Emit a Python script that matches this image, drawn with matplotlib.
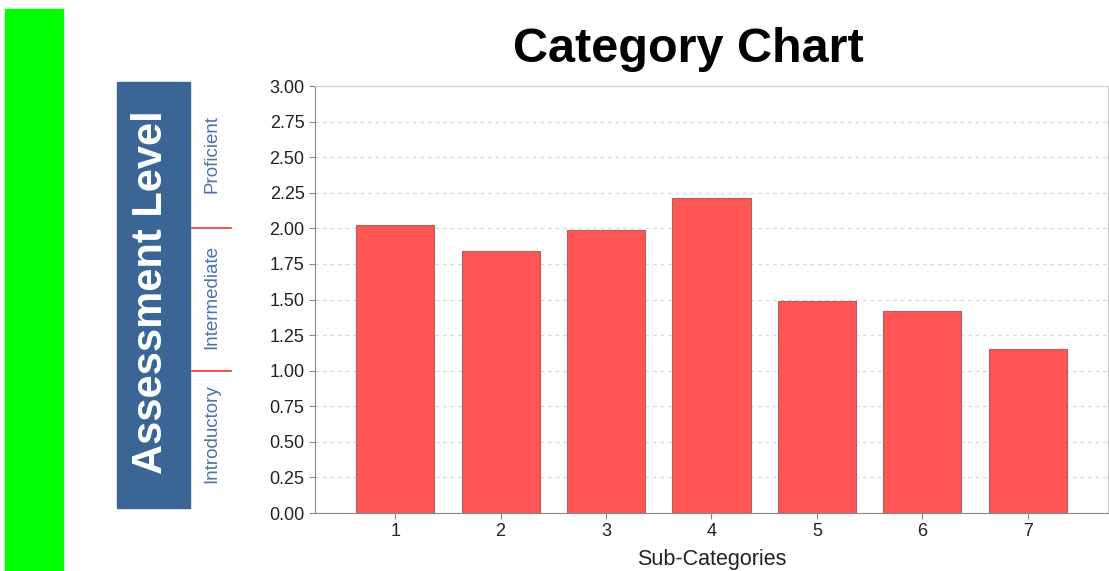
import numpy as np
import matplotlib.pyplot as plt
from matplotlib.patches import Rectangle

plt.rcParams['font.family'] = ['Liberation Sans', 'DejaVu Sans']

categories = ['1', '2', '3', '4', '5', '6', '7']
scores = [2.02, 1.84, 1.99, 2.21, 1.49, 1.42, 1.15]
levels = ['Introductory', 'Intermediate', 'Proficient']
level_pos = [0.56, 1.52, 2.52]
level_cuts = [1.0, 2.0]
yticks = np.arange(0, 3.01, 0.25)

W, H = 1109, 571
fig = plt.figure(figsize=(W / 100, H / 100), dpi=100)

def box(x0, y0, x1, y1):
    # pixel box (top-left origin) -> figure fraction
    return [x0 / W, 1 - y1 / H, (x1 - x0) / W, (y1 - y0) / H]

# green strip on the far left
fig.patches.append(Rectangle((5 / W, 0), 58 / W, 1 - 9 / H, transform=fig.transFigure,
                             color='#00ff00', zorder=0))

ax = fig.add_axes(box(315, 86, 1108, 513))
x = np.arange(1, len(categories) + 1)
ax.bar(x, scores, width=0.74, color='#ff5555', edgecolor='#b06060', linewidth=0.8, zorder=3)
ax.set_xlim(0.24, 7.76)
ax.set_ylim(0, 3)
ax.set_xticks(x)
ax.set_xticklabels(categories)
ax.set_yticks(yticks)
ax.set_yticklabels([f'{v:.2f}' for v in yticks])
ax.yaxis.grid(True, linestyle=(0, (3, 3)), color='#d8d8d8', linewidth=0.9, zorder=0)
ax.tick_params(axis='both', labelsize=13, colors='#888888', labelcolor='#222222', length=4, width=0.8)
for s in ['left', 'bottom']:
    ax.spines[s].set_color('#888888')
for s in ['top', 'right']:
    ax.spines[s].set_color('#cccccc')
ax.set_xlabel('Sub-Categories', fontsize=15.5, color='#222222', labelpad=6)
fig.text(688 / W, 1 - 49 / H, 'Category Chart', ha='center', va='center',
         fontsize=35, fontweight='bold', color='black')

# side panel with the assessment levels, aligned to the value axis
side = fig.add_axes(box(117, 86, 315, 513))
side.set_xlim(117, 315)
side.set_ylim(0, 3)
side.axis('off')
side.add_patch(Rectangle((117, 0.035), 73, 2.995, color='#3a6594', clip_on=False))
side.text(151, 1.55, 'Assessment Level', rotation=90, ha='center', va='center',
          color='white', fontsize=30, fontweight='bold')
for name, pos in zip(levels, level_pos):
    side.text(212, pos, name, rotation=90, ha='center', va='center',
              color='#4a72b0', fontsize=13.5)
for c in level_cuts:
    side.plot([192, 231], [c, c], color='#ee3333', linewidth=1.2, clip_on=False)

fig.savefig('out.png', dpi=100)
